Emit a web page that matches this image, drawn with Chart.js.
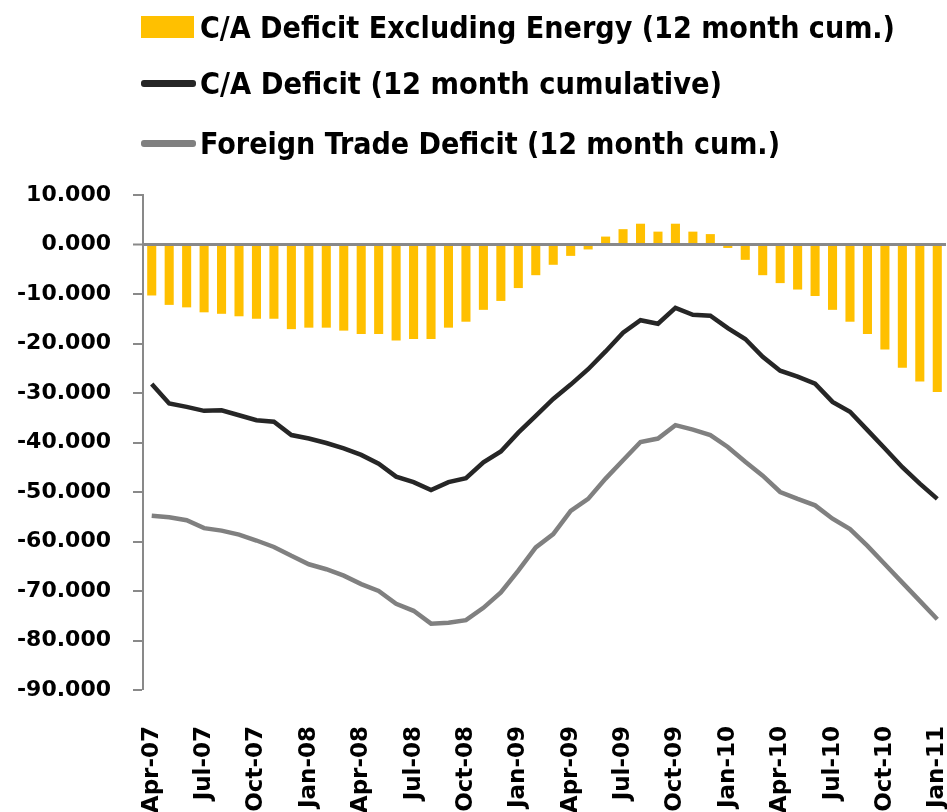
<!DOCTYPE html>
<html>
<head>
<meta charset="utf-8">
<title>C/A Deficit</title>
<script src="https://cdn.jsdelivr.net/npm/chart.js@4.4.0/dist/chart.umd.min.js"></script>
<style>
    html, body { margin: 0; padding: 0; background: #fff; }
    #wrap { position: relative; width: 947px; height: 812px; overflow: hidden; }
    #chart { position: absolute; left: 0; top: 0; }
    .swatch { position: absolute; left: 141px; }
    .swatch.box { top: 16px; width: 53px; height: 22px; background: #FFC000; }
    .swatch.line { width: 55px; height: 7px; border-radius: 3px; }
    .legend-text {
        position: absolute; left: 200px; color: #000; white-space: nowrap;
        font-family: 'DejaVu Sans Condensed', 'DejaVu Sans', sans-serif;
        font-weight: bold; font-size: 31px; line-height: 36px;
        transform-origin: left center;
    }
</style>
</head>
<body>
<div id="wrap">
    <canvas id="chart" width="947" height="812"></canvas>
    <div class="swatch box"></div>
    <div class="legend-text" style="top: 9px;" data-width="695">C/A Deficit Excluding Energy (12 month cum.)</div>
    <div class="swatch line" style="top: 80px; background: #262626;"></div>
    <div class="legend-text" style="top: 65px;" data-width="522">C/A Deficit (12 month cumulative)</div>
    <div class="swatch line" style="top: 140px; background: #808080;"></div>
    <div class="legend-text" style="top: 125px;" data-width="580">Foreign Trade Deficit (12 month cum.)</div>
</div>
<script>
// Months, Apr-07 .. Jan-11
const months = [
    'Apr-07', 'May-07', 'Jun-07', 'Jul-07', 'Aug-07', 'Sep-07', 'Oct-07', 'Nov-07', 'Dec-07',
    'Jan-08', 'Feb-08', 'Mar-08', 'Apr-08', 'May-08', 'Jun-08', 'Jul-08', 'Aug-08', 'Sep-08', 'Oct-08', 'Nov-08', 'Dec-08',
    'Jan-09', 'Feb-09', 'Mar-09', 'Apr-09', 'May-09', 'Jun-09', 'Jul-09', 'Aug-09', 'Sep-09', 'Oct-09', 'Nov-09', 'Dec-09',
    'Jan-10', 'Feb-10', 'Mar-10', 'Apr-10', 'May-10', 'Jun-10', 'Jul-10', 'Aug-10', 'Sep-10', 'Oct-10', 'Nov-10', 'Dec-10',
    'Jan-11'
];

// only these are written under the axis
const tickLabels = [
    'Apr-07', 'Jul-07', 'Oct-07', 'Jan-08', 'Apr-08', 'Jul-08', 'Oct-08', 'Jan-09',
    'Apr-09', 'Jul-09', 'Oct-09', 'Jan-10', 'Apr-10', 'Jul-10', 'Oct-10', 'Jan-11'
];

const caExEnergy = [
    -10.3, -12.2, -12.7, -13.7, -14.0, -14.5, -15.0, -15.0, -17.1, -16.8,
    -16.8, -17.4, -18.1, -18.1, -19.4, -19.1, -19.1, -16.8, -15.6, -13.2,
    -11.4, -8.8, -6.2, -4.1, -2.3, -1.0, 1.6, 3.1, 4.2, 2.6,
    4.2, 2.6, 2.1, -0.7, -3.1, -6.2, -7.8, -9.1, -10.4, -13.2,
    -15.6, -18.1, -21.2, -24.9, -27.7, -29.8
];

const caDeficit = [
    -28.2, -32.1, -32.8, -33.6, -33.5, -34.5, -35.5, -35.8, -38.5, -39.2,
    -40.1, -41.2, -42.5, -44.3, -46.9, -48.0, -49.6, -48.0, -47.2, -44.0,
    -41.8, -38.0, -34.6, -31.2, -28.3, -25.2, -21.6, -17.8, -15.3, -16.0,
    -12.8, -14.2, -14.4, -16.9, -19.1, -22.7, -25.5, -26.7, -28.1, -31.8,
    -33.8, -37.5, -41.2, -45.0, -48.3, -51.4
];

const tradeDeficit = [
    -54.8, -55.1, -55.7, -57.3, -57.8, -58.6, -59.8, -61.1, -62.9, -64.6,
    -65.6, -66.9, -68.6, -70.0, -72.6, -74.0, -76.6, -76.4, -75.9, -73.4,
    -70.3, -65.9, -61.2, -58.5, -53.8, -51.4, -47.3, -43.6, -39.9, -39.2,
    -36.5, -37.4, -38.5, -40.9, -43.9, -46.7, -50.0, -51.4, -52.7, -55.4,
    -57.5, -60.9, -64.6, -68.3, -72.0, -75.7
];

const AXIS_GREY = '#898989';

function fitLegendText() {
    document.querySelectorAll('.legend-text').forEach(el => {
        const target = Number(el.dataset.width);
        const w = el.getBoundingClientRect().width;
        if (w > 0) el.style.transform = `scaleX(${target / w})`;
    });
}

const ctx = document.getElementById('chart').getContext('2d');
const chart = new Chart(ctx, {
    type: 'bar',
    data: {
        labels: months,
        datasets: [
            {
                type: 'line',
                label: 'C/A Deficit (12 month cumulative)',
                data: caDeficit,
                borderColor: '#262626',
                borderWidth: 4.5,
                pointRadius: 0,
                tension: 0,
                order: 1
            },
            {
                type: 'line',
                label: 'Foreign Trade Deficit (12 month cum.)',
                data: tradeDeficit,
                borderColor: '#808080',
                borderWidth: 4.5,
                pointRadius: 0,
                tension: 0,
                order: 2
            },
            {
                label: 'C/A Deficit Excluding Energy (12 month cum.)',
                data: caExEnergy,
                backgroundColor: '#FFC000',
                categoryPercentage: 1,
                barPercentage: 0.52,
                order: 3
            }
        ]
    },
    options: {
        responsive: false,
        animation: false,
        devicePixelRatio: 1,
        layout: { padding: { top: 195, right: 1, left: 0, bottom: 0 } },
        plugins: {
            legend: { display: false },
            tooltip: { enabled: false }
        },
        scales: {
            x: {
                grid: { display: false, drawTicks: false },
                border: { display: false },
                ticks: {
                    autoSkip: false,
                    minRotation: 90,
                    maxRotation: 90,
                    padding: 36,
                    color: '#000',
                    font: { family: 'DejaVu Sans', weight: 'bold', size: 23 },
                    callback: function (value, index) {
                        const m = months[index];
                        return tickLabels.includes(m) ? m : '';
                    }
                },
                afterFit: (scale) => {
                    // rotated labels would otherwise eat into the plot width
                    scale.height = 122;
                    scale.paddingLeft = 0;
                    scale.paddingRight = 0;
                }
            },
            y: {
                min: -90,
                max: 10,
                border: { display: true, color: AXIS_GREY, width: 2 },
                grid: {
                    color: (c) => (c.tick && c.tick.value === 0 ? AXIS_GREY : 'rgba(0,0,0,0)'),
                    lineWidth: (c) => (c.tick && c.tick.value === 0 ? 3 : 0),
                    drawTicks: true,
                    tickLength: 10,
                    tickColor: AXIS_GREY,
                    tickWidth: 2
                },
                ticks: {
                    stepSize: 10,
                    padding: 22,
                    color: '#000',
                    font: { family: 'DejaVu Sans', weight: 'bold', size: 22 },
                    callback: (v) => Number(v).toFixed(3)
                },
                afterFit: (scale) => { scale.width = 143; }
            }
        }
    }
});

fitLegendText();
</script>
</body>
</html>
